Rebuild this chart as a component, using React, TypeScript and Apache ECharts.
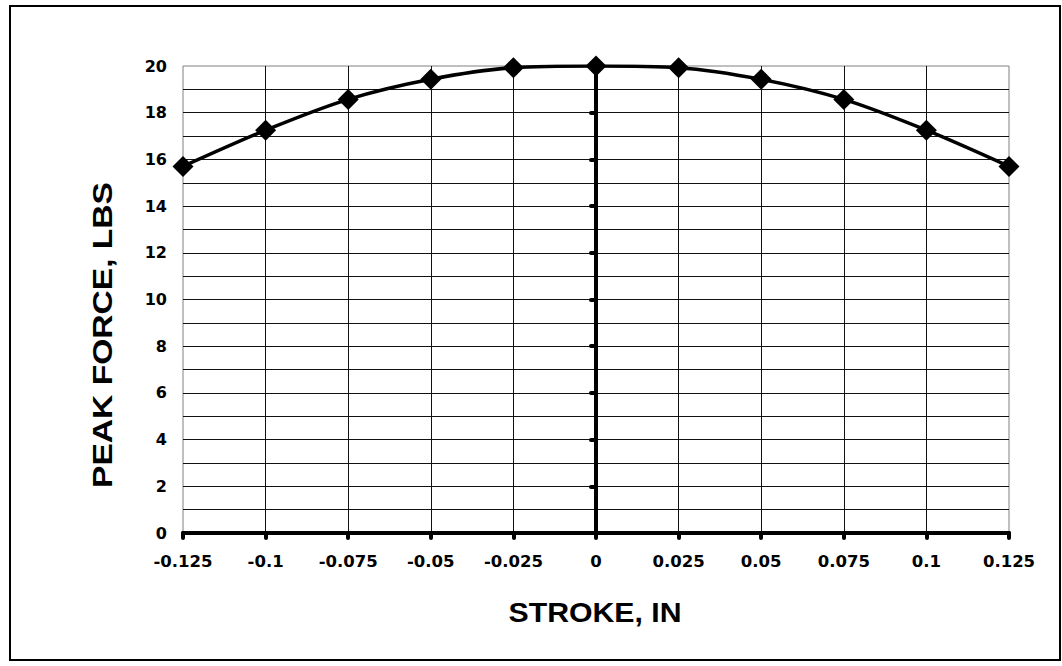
import React, { useEffect, useRef } from "react";
import * as echarts from "echarts";

const strokeIn = [-0.125, -0.1, -0.075, -0.05, -0.025, 0, 0.025, 0.05, 0.075, 0.1, 0.125];
const peakForce = [15.7, 17.25, 18.57, 19.43, 19.93, 20, 19.93, 19.43, 18.57, 17.25, 15.7];
const xTitle = "STROKE, IN";
const yTitle = "PEAK FORCE, LBS";

const FONT = "'DejaVu Sans', sans-serif";
const TFONT = "'Liberation Sans', Arial, sans-serif";

export default function App() {
  const ref = useRef<HTMLDivElement>(null);
  useEffect(() => {
    if (!ref.current) return;
    const chart = echarts.init(ref.current, undefined, { renderer: "svg" });
    chart.setOption({
      animation: false,
      backgroundColor: "#ffffff",
      grid: {
        left: 183,
        right: 53,
        top: 66,
        bottom: 133,
        show: true,
        borderColor: "#808080",
        borderWidth: 1,
        backgroundColor: "transparent",
      },
      graphic: [
        {
          type: "rect",
          shape: { x: 10, y: 6, width: 1050, height: 654 },
          style: { fill: "none", stroke: "#000", lineWidth: 2 },
          silent: true,
        },
        {
          type: "text",
          x: 595,
          y: 612,
          scaleX: 1.08,
          style: {
            text: xTitle,
            font: `bold 28px ${TFONT}`,
            fill: "#000",
            align: "center",
            verticalAlign: "middle",
          },
        },
        {
          type: "text",
          x: 102,
          y: 335,
          rotation: Math.PI / 2,
          scaleX: 1.2,
          style: {
            text: yTitle,
            font: `bold 28px ${TFONT}`,
            fill: "#000",
            align: "center",
            verticalAlign: "middle",
          },
        },
      ],
      xAxis: {
        type: "value",
        min: -0.125,
        max: 0.125,
        interval: 0.025,
        axisLine: { show: true, onZero: true, lineStyle: { color: "#000", width: 4, cap: "round" } },
        axisTick: { show: true, length: 5, lineStyle: { color: "#000", width: 4, cap: "round" } },
        axisLabel: {
          show: true,
          margin: 20,
          color: "#000",
          fontFamily: FONT,
          fontWeight: "bold",
          fontSize: 16.5,
          showMinLabel: true,
          showMaxLabel: true,
        },
        splitLine: { show: true, showMinLine: false, showMaxLine: false, lineStyle: { color: "#111", width: 1 } },
      },
      yAxis: [
        {
          type: "value",
          min: 0,
          max: 20,
          interval: 2,
          position: "left",
          axisLine: { show: false, onZero: false },
          axisTick: { show: false },
          axisLabel: {
            show: true,
            margin: 16,
            color: "#000",
            fontFamily: FONT,
            fontWeight: "bold",
            fontSize: 16,
          },
          splitLine: { show: true, showMinLine: false, showMaxLine: false, lineStyle: { color: "#111", width: 1 } },
          minorTick: { show: false, splitNumber: 2 },
          minorSplitLine: { show: true, lineStyle: { color: "#111", width: 1 } },
        },
        {
          type: "value",
          min: 0,
          max: 20,
          interval: 2,
          position: "left",
          axisLine: { show: true, onZero: true, lineStyle: { color: "#000", width: 4 } },
          axisTick: { show: true, length: 5, lineStyle: { color: "#000", width: 4, cap: "round" } },
          axisLabel: { show: false },
          splitLine: { show: false },
        },
      ],
      series: [
        {
          type: "line",
          data: strokeIn.map((x, i) => [x, peakForce[i]]),
          smooth: 0.3,
          symbol: "diamond",
          symbolSize: 21,
          itemStyle: { color: "#000" },
          lineStyle: { color: "#000", width: 3.5 },
          z: 5,
        },
      ],
    });
    return () => chart.dispose();
  }, []);
  return (
    <div
      ref={ref}
      style={{ position: "absolute", left: 0, top: 0, width: 1062, height: 666 }}
    />
  );
}
